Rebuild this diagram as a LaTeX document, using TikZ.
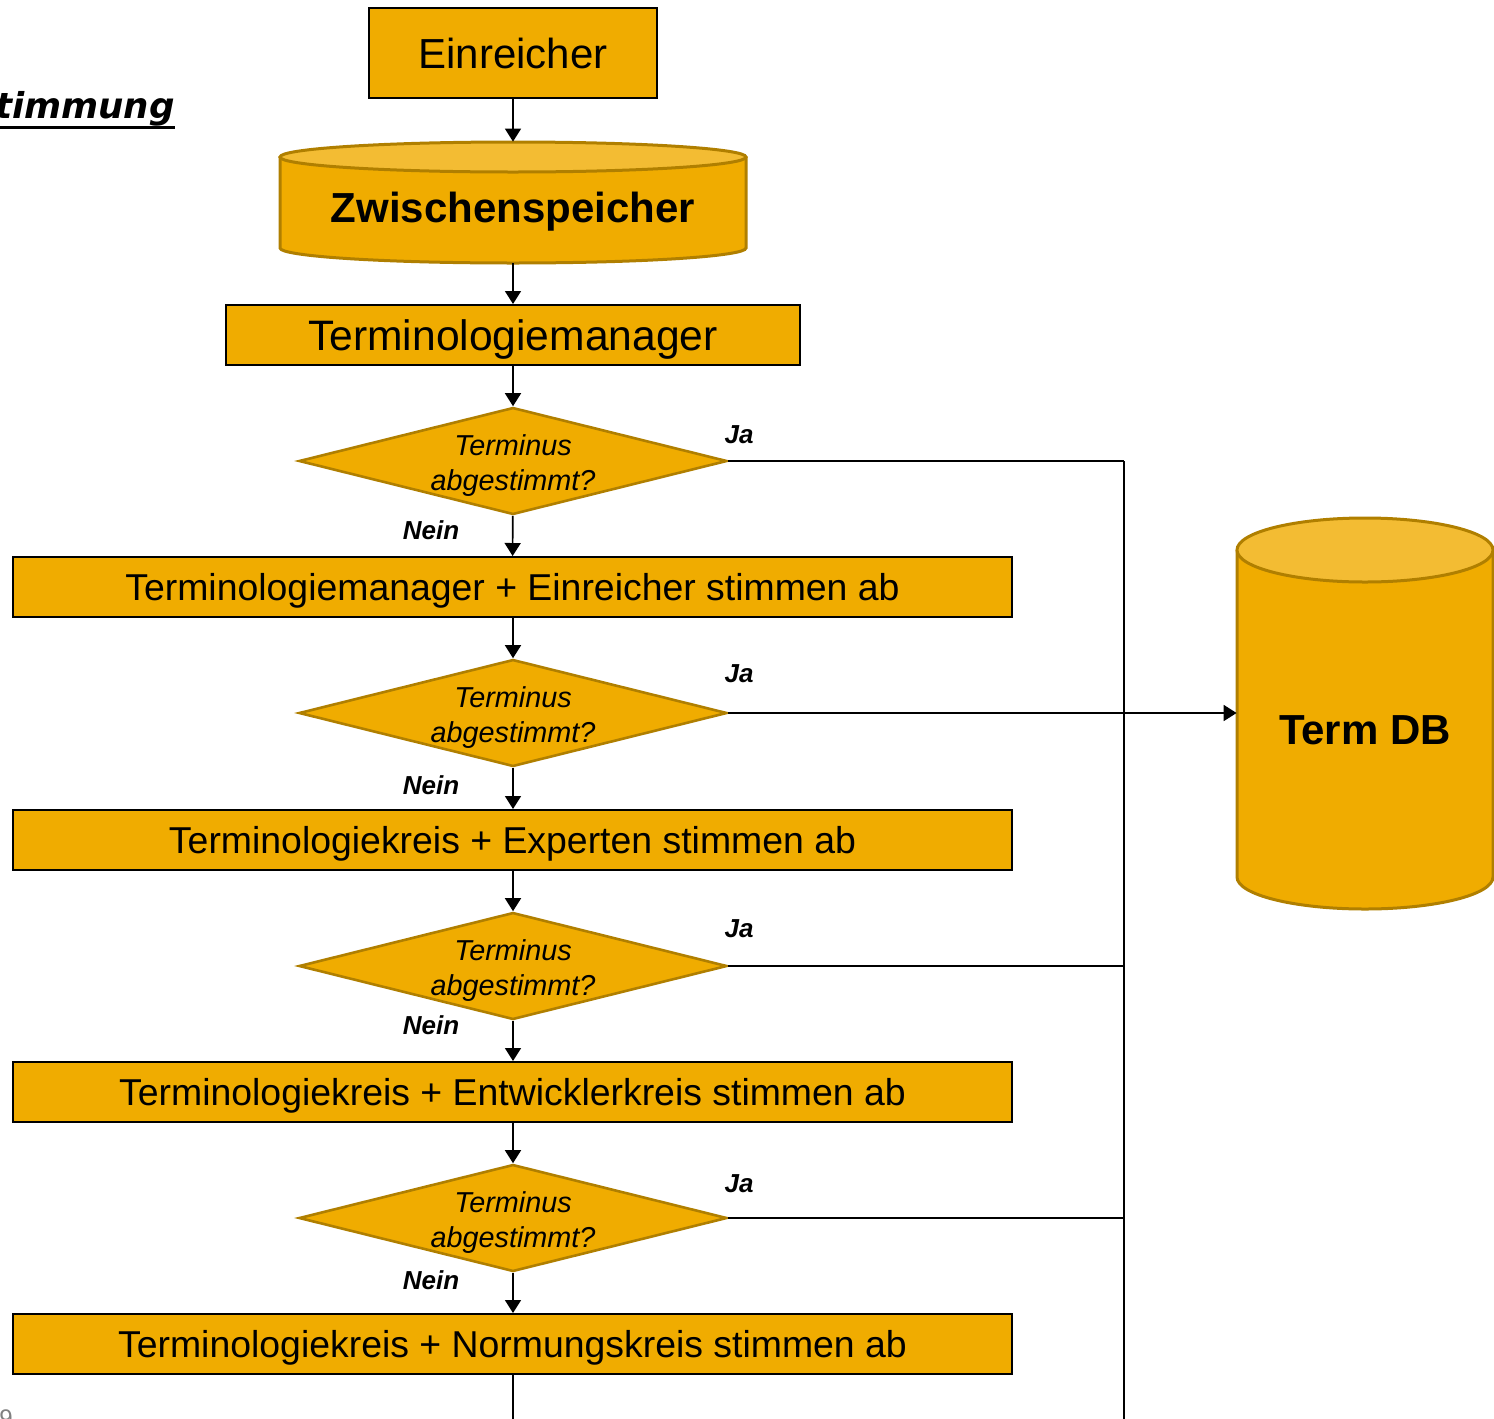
\documentclass[tikz,border=0pt]{standalone}
\usepackage{fontspec}
\setmainfont{Liberation Sans}
\newfontfamily\titlefont{DejaVu Sans}
\newcommand{\heavyul}[1]{\setbox0=\hbox{#1}\rlap{\rule[-5.5pt]{\wd0}{1.5pt}}\box0}
\usetikzlibrary{shapes.geometric, arrows.meta, backgrounds}

\definecolor{boxfill}{HTML}{F0AC00}
\definecolor{topfill}{HTML}{F3BC33}
\definecolor{rimgold}{HTML}{B07F00}

\begin{document}
\begin{tikzpicture}[x=0.5pt, y=-0.5pt,
  >={Triangle[length=6.5pt, width=8pt]},
  stepbox/.style={draw=black, line width=1pt, fill=boxfill, minimum height=30pt, inner sep=0pt, text depth=0pt},
  longbox/.style={stepbox, minimum width=499.5pt, font=\fontsize{18.7}{22}\selectfont},
  ask/.style={diamond, draw=rimgold, line width=1.3pt, fill=boxfill,
    minimum width=214pt, minimum height=53.5pt, inner sep=0pt},
  asktext/.style={font=\fontsize{14.4}{17.5}\selectfont\itshape, align=center, inner sep=0pt, yshift=-2.5pt},
  answer/.style={font=\fontsize{13}{15}\selectfont\bfseries\itshape, inner sep=0pt},
  store/.style={font=\fontsize{21}{25}\selectfont\bfseries, inner sep=0pt},
  rim/.style={draw=rimgold, line width=1.5pt},
  flow/.style={->, line width=0.8pt},
  jaline/.style={line width=0.6pt},
  busline/.style={line width=0.9pt}]
  \useasboundingbox (0,0) rectangle (1494,1419);

  % Title (cut off at left)
  \node[font=\titlefont\fontsize{17.8}{22}\selectfont\bfseries\itshape, anchor=base east, inner sep=0pt]
    (title) at (175,118) {\heavyul{timmung}};
  \node[gray, font=\fontsize{12}{14}\selectfont, anchor=north west, inner sep=0pt] (pageno) at (-1,1409) {9};

  % Main column
  \node[stepbox, minimum width=144pt, minimum height=45pt, font=\fontsize{21}{25}\selectfont]
    (einr) at (513,53) {Einreicher};
  \node[store, minimum width=233pt, minimum height=60.5pt, text height=19.5pt, text depth=0pt]
    (zw) at (513,202.5) {Zwischenspeicher};
  \node[stepbox, minimum width=287pt, font=\fontsize{21.3}{25}\selectfont]
    (tm) at (513,335) {Terminologiemanager};

  \node[ask, label={[asktext]center:{Terminus\\abgestimmt?}}] (d1) at (513,461) {};
  \node[longbox] (b1) at (512.5,587) {Terminologiemanager + Einreicher stimmen ab};
  \node[ask, label={[asktext]center:{Terminus\\abgestimmt?}}] (d2) at (513,713) {};
  \node[longbox] (b2) at (512.5,840) {Terminologiekreis + Experten stimmen ab};
  \node[ask, label={[asktext]center:{Terminus\\abgestimmt?}}] (d3) at (513,966) {};
  \node[longbox] (b3) at (512.5,1092) {Terminologiekreis + Entwicklerkreis stimmen ab};
  \node[ask, label={[asktext]center:{Terminus\\abgestimmt?}}] (d4) at (513,1218) {};
  \node[longbox] (b4) at (512.5,1344) {Terminologiekreis + Normungskreis stimmen ab};

  % Term DB
  \node[store, minimum width=128pt] (db) at (1365,730) {Term DB};

  % Cylinders
  \begin{scope}[on background layer]
    \fill[boxfill] (280,157) -- (280,248) arc[start angle=180, end angle=360, x radius=116.5pt, y radius=7.5pt]
      -- (746,157) -- cycle;
    \draw[rim] (280,157) -- (280,248) arc[start angle=180, end angle=360, x radius=116.5pt, y radius=7.5pt]
      -- (746,157);
    \draw[rim, fill=topfill] (513,157) ellipse[x radius=116.5pt, y radius=7.5pt];

    \fill[boxfill] (1237,550) -- (1237,877) arc[start angle=180, end angle=360, x radius=64pt, y radius=16pt]
      -- (1493,550) -- cycle;
    \draw[rim] (1237,550) -- (1237,877) arc[start angle=180, end angle=360, x radius=64pt, y radius=16pt]
      -- (1493,550);
    \draw[rim, fill=topfill] (1365,550) ellipse[x radius=64pt, y radius=16pt];
  \end{scope}

  % Flow down
  \draw[flow] (einr) -- (zw);
  \draw[flow] (zw) -- (tm);
  \draw[flow] (tm) -- (d1);
  \draw[flow] (d1) -- (b1);
  \draw[flow] (b1.south -| d2.north) -- (d2);
  \draw[flow] (d2) -- (b2.north -| d2.south);
  \draw[flow] (b2.south -| d3.north) -- (d3);
  \draw[flow] (d3) -- (b3.north -| d3.south);
  \draw[flow] (b3.south -| d4.north) -- (d4);
  \draw[flow] (d4) -- (b4.north -| d4.south);
  \coordinate (exit) at (513,1419);
  \draw[busline] (b4.south -| exit) -- (exit);

  % Ja branch
  \coordinate (bus) at (1124,1419);
  \draw[busline] (d1.east -| bus) -- (bus);
  \draw[jaline] (d1.east) -- (d1.east -| bus);
  \draw[jaline] (d2.east) -- (d2.east -| bus);
  \draw[jaline] (d3.east) -- (d3.east -| bus);
  \draw[jaline] (d4.east) -- (d4.east -| bus);
  \draw[flow, line width=0.9pt] (d2.east -| bus) -- (d2.east -| db.west);

  % Answers
  \node[answer] (ja1) at (739,435) {Ja};
  \node[answer] (ja2) at (739,674) {Ja};
  \node[answer] (ja3) at (739,929) {Ja};
  \node[answer] (ja4) at (739,1184) {Ja};
  \node[answer] (nein1) at (431,530) {Nein};
  \node[answer] (nein2) at (431,785) {Nein};
  \node[answer] (nein3) at (431,1025) {Nein};
  \node[answer] (nein4) at (431,1280) {Nein};
\end{tikzpicture}
\end{document}
